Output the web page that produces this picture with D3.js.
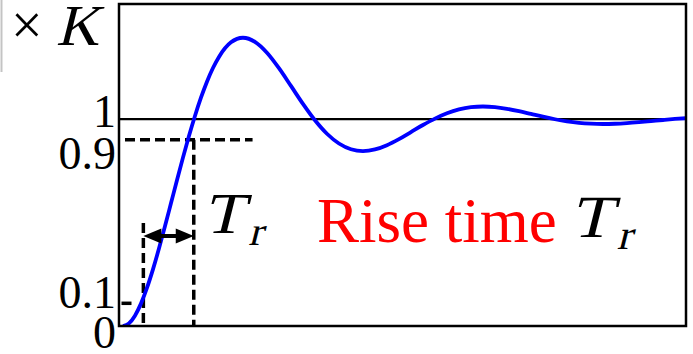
<!DOCTYPE html>
<html>
<head>
<meta charset="utf-8">
<script src="https://cdn.jsdelivr.net/npm/d3@7"></script>
<style>
  html, body { margin: 0; padding: 0; background: #fff; }
  svg { display: block; }
</style>
</head>
<body>
<script>
// Normalised step response (output / K) of an underdamped second-order system.
// Time is expressed in half-periods of the damped oscillation.
const timeSteps = [
  0, 0.05, 0.1, 0.15, 0.2, 0.25, 0.3, 0.35, 0.4, 0.45, 0.5, 0.55, 0.6, 0.65, 0.7, 0.75,
  0.8, 0.9, 1.0, 1.1, 1.2, 1.3, 1.4, 1.5, 1.6, 1.7, 1.8, 1.9, 2.0, 2.1, 2.2, 2.3,
  2.4, 2.5, 2.6, 2.7, 2.8, 2.9, 3.0, 3.1, 3.2, 3.3, 3.4, 3.5, 3.6, 3.7, 3.8, 3.9,
  4.0, 4.1, 4.2, 4.3, 4.4, 4.5, 4.6, 4.7
];
const response = [
  0, 0.0129, 0.0500, 0.1081, 0.1838, 0.2737, 0.3741, 0.4815, 0.5927, 0.7044, 0.8136, 0.9179, 1.0150, 1.1030, 1.1806, 1.2467,
  1.3004, 1.3707, 1.3930, 1.3733, 1.3207, 1.2460, 1.1601, 1.0733, 0.9941, 0.9290, 0.8819, 0.8543, 0.8455, 0.8533, 0.8740, 0.9033,
  0.9371, 0.9712, 1.0023, 1.0279, 1.0464, 1.0572, 1.0607, 1.0577, 1.0495, 1.0380, 1.0247, 1.0113, 0.9991, 0.9890, 0.9817, 0.9775,
  0.9761, 0.9773, 0.9805, 0.9850, 0.9902, 0.9955, 1.0004, 1.0043
];

// Level ticks on the vertical axis
const levelTicks = [0, 0.1, 0.9, 1];
const levelTickLabels = ["0", "0.1", "0.9", "1"];

// Rise-time construction: 10 % and 90 % levels and the times where they are reached
const riseLevels = [0.1, 0.9];
const riseTimes = [0.17, 0.59];
const arrowLevel = 0.435;
const guideEnd90 = 1.08;     // how far the 90 % guide runs to the right
const steadyLevel = 1;
const steadyEnd = 4.56;      // steady-state reference line end

const captionText = "Rise time";

// ---------------------------------------------------------------------------
const W = 693, H = 354;
const frame = { left: 119, top: 4, right: 686, bottom: 326 };
const tDomain = [-0.033, 4.692];
const yMax = 1.556;

const x = d3.scaleLinear().domain(tDomain).range([frame.left, frame.right]);
const y = d3.scaleLinear().domain([0, yMax]).range([frame.bottom, frame.top]);

const svg = d3.select("body").append("svg")
  .attr("width", W).attr("height", H)
  .attr("viewBox", `0 0 ${W} ${H}`);

const serif = "'Liberation Serif', 'Times New Roman', serif";

svg.append("defs").append("clipPath").attr("id", "plotClip")
  .append("rect")
  .attr("x", frame.left).attr("y", frame.top)
  .attr("width", frame.right - frame.left).attr("height", frame.bottom - frame.top);

// thin grey rule at the far left
svg.append("line")
  .attr("x1", 1.5).attr("x2", 1.5).attr("y1", 0).attr("y2", 72)
  .attr("stroke", "#c4c4c4").attr("stroke-width", 2);

// steady-state line
svg.append("line")
  .attr("x1", frame.left).attr("x2", x(steadyEnd))
  .attr("y1", y(steadyLevel)).attr("y2", y(steadyLevel))
  .attr("stroke", "#000").attr("stroke-width", 2.2);

// dashed guides
const dash = "10,5";
const guides = svg.append("g")
  .attr("stroke", "#000").attr("stroke-width", 3.5).attr("stroke-dasharray", dash).attr("fill", "none");

guides.append("line")            // 90 % level
  .attr("x1", frame.left + 6).attr("x2", x(guideEnd90))
  .attr("y1", y(riseLevels[1])).attr("y2", y(riseLevels[1]));
guides.append("line")            // 10 % level (short stub)
  .attr("x1", frame.left + 2.5).attr("x2", frame.left + 13)
  .attr("y1", y(riseLevels[0]) - 2).attr("y2", y(riseLevels[0]) - 2)
  .attr("stroke-dasharray", null);
guides.append("line")            // time at 90 %
  .attr("x1", x(riseTimes[1])).attr("x2", x(riseTimes[1]))
  .attr("y1", y(riseLevels[1])).attr("y2", frame.bottom);
guides.append("line")            // time at 10 %
  .attr("x1", x(riseTimes[0])).attr("x2", x(riseTimes[0]))
  .attr("y1", y(arrowLevel) - 13).attr("y2", frame.bottom);

// response curve
const line = d3.line()
  .x((d, i) => x(timeSteps[i]))
  .y(d => y(d))
  .curve(d3.curveMonotoneX);

svg.append("path")
  .datum(response)
  .attr("clip-path", "url(#plotClip)")
  .attr("d", line)
  .attr("fill", "none")
  .attr("stroke", "#0000ff")
  .attr("stroke-width", 3.8)
  .attr("stroke-linejoin", "round");

// double-headed arrow spanning the rise time
const ax0 = x(riseTimes[0]), ax1 = x(riseTimes[1]), ay = y(arrowLevel);
const headL = 18, headH = 7.5;
svg.append("line")
  .attr("x1", ax0 + headL - 2).attr("x2", ax1 - headL + 2)
  .attr("y1", ay).attr("y2", ay)
  .attr("stroke", "#000").attr("stroke-width", 4);
svg.append("path")
  .attr("d", `M${ax0},${ay} L${ax0 + headL},${ay - headH} L${ax0 + headL},${ay + headH} Z`)
  .attr("fill", "#000");
svg.append("path")
  .attr("d", `M${ax1},${ay} L${ax1 - headL},${ay - headH} L${ax1 - headL},${ay + headH} Z`)
  .attr("fill", "#000");

// frame
svg.append("rect")
  .attr("x", frame.left).attr("y", frame.top)
  .attr("width", frame.right - frame.left).attr("height", frame.bottom - frame.top)
  .attr("fill", "none").attr("stroke", "#000").attr("stroke-width", 2.5);

// level labels, nudged so they do not collide
const labelNudge = { "0": 22, "0.1": 3, "0.9": 29, "1": 8 };
svg.append("g").selectAll("text")
  .data(levelTicks)
  .join("text")
  .attr("x", 116)
  .attr("y", (d, i) => y(d) + labelNudge[levelTickLabels[i]])
  .attr("text-anchor", "end")
  .attr("font-family", serif)
  .attr("font-size", 46)
  .attr("fill", "#000")
  .text((d, i) => levelTickLabels[i]);

// slanted (math-italic style) glyph drawn from the upright serif
function mathGlyph(parent, px, py, size, str, stretch) {
  return parent.append("text")
    .attr("transform", `translate(${px},${py}) skewX(-14) scale(${stretch},1)`)
    .attr("font-family", serif).attr("font-size", size)
    .attr("fill", "#000")
    .text(str);
}

// "× K" unit marker
svg.append("text")
  .attr("x", 11).attr("y", 44)
  .attr("font-family", serif).attr("font-size", 56)
  .text("\u00D7");
mathGlyph(svg, 56, 45, 58, "K", 1.02);

// T_r symbol
function riseSymbol(px, py, size) {
  mathGlyph(svg, px, py, size, "T", 1.15);
  mathGlyph(svg, px + size * 0.78, py + size * 0.2, size * 0.7, "r", 1.05);
}
riseSymbol(203, 233, 58);

svg.append("text")
  .attr("x", 317).attr("y", 242)
  .attr("font-family", serif).attr("font-size", 63)
  .attr("fill", "#ff0000")
  .text(captionText);

riseSymbol(570, 237, 60);
</script>
</body>
</html>
